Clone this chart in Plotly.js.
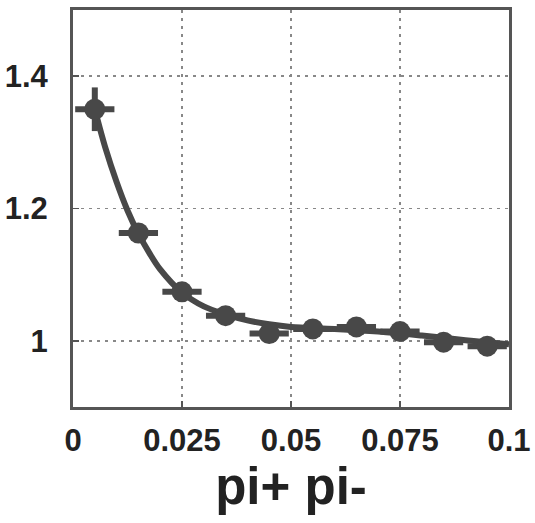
<!DOCTYPE html>
<html>
<head>
<meta charset="utf-8">
<script src="https://cdn.plot.ly/plotly-3.0.1.min.js"></script>
<style>html,body{margin:0;padding:0;background:#fff;}#chart{width:535px;height:523px;}</style>
</head>
<body>
<div id="chart"></div>
<script>
// Data points
const xVals = [0.005, 0.015, 0.025, 0.035, 0.045, 0.055, 0.065, 0.075, 0.085, 0.095];
const yVals = [1.350, 1.163, 1.074, 1.038, 1.011, 1.018, 1.021, 1.014, 0.998, 0.992];
const xErr  = [0.0045, 0.0045, 0.0045, 0.0045, 0.0045, 0.0045, 0.0045, 0.0045, 0.0045, 0.0045];
const yErr  = [0.033, 0.012, 0.008, 0.006, 0.005, 0.005, 0.005, 0.005, 0.005, 0.005];

// Fitted curve, values
const curveX = [0.005, 0.0075, 0.01, 0.0125, 0.015, 0.0175, 0.02, 0.025, 0.03, 0.035, 0.04, 0.045, 0.05, 0.06, 0.07, 0.08, 0.09, 0.1];
const curveY = [1.350, 1.290, 1.240, 1.197, 1.162, 1.133, 1.108, 1.073, 1.052, 1.040, 1.031, 1.025, 1.021, 1.018, 1.014, 1.008, 1.001, 0.995];

const xTicks = [0, 0.025, 0.05, 0.075, 0.1];
const xTickText = ['0', '0.025', '0.05', '0.075', '0.1'];
const yTicks = [1, 1.2, 1.4];
const yTickText = ['1', '1.2', '1.4'];
const xTitle = 'pi+ pi-';

const col = '#484848';

const traces = [
  {
    x: curveX, y: curveY, type: 'scatter', mode: 'lines',
    line: {color: col, width: 6, shape: 'spline', smoothing: 1},
    hoverinfo: 'skip', showlegend: false
  },
  {
    x: xVals, y: yVals, type: 'scatter', mode: 'markers',
    marker: {color: col, size: 21},
    error_x: {type: 'data', array: xErr, color: col, thickness: 6, width: 0},
    error_y: {type: 'data', array: yErr, color: col, thickness: 6, width: 0},
    showlegend: false
  }
];

const tickFont = {family: 'Liberation Sans, Arial, sans-serif', size: 31, weight: 'bold', color: '#222'};

const layout = {
  width: 535, height: 523,
  margin: {l: 73, r: 26, t: 10, b: 116},
  paper_bgcolor: '#fff', plot_bgcolor: '#fff',
  showlegend: false,
  xaxis: {
    range: [0, 0.1],
    tickvals: xTicks, ticktext: xTickText,
    tickfont: tickFont,
    showgrid: true, gridcolor: '#888', gridwidth: 1.5, griddash: '3px,5px',
    zeroline: false,
    showline: true, linecolor: '#555', linewidth: 3, mirror: true,
    ticks: 'inside', ticklen: 6, tickcolor: '#555', tickwidth: 1.5,
    ticklabelstandoff: 4,
    title: {text: xTitle, font: {family: 'Liberation Sans, Arial, sans-serif', size: 51, weight: 'bold', color: '#222'}, standoff: 10}
  },
  yaxis: {
    range: [0.9, 1.5],
    tickvals: yTicks, ticktext: yTickText,
    tickfont: tickFont,
    showgrid: true, gridcolor: '#888', gridwidth: 1.5, griddash: '3px,5px',
    zeroline: false,
    showline: true, linecolor: '#555', linewidth: 3, mirror: true,
    ticks: 'inside', ticklen: 6, tickcolor: '#555', tickwidth: 1.5,
    ticklabelstandoff: 16
  }
};

Plotly.newPlot('chart', traces, layout, {staticPlot: true, displayModeBar: false});
</script>
</body>
</html>
